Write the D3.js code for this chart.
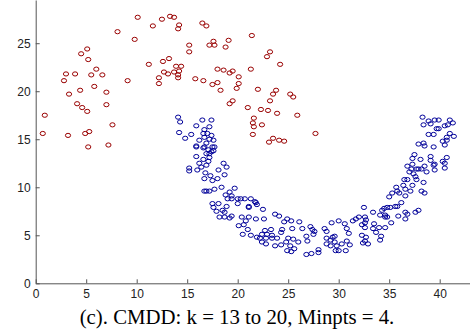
<!DOCTYPE html>
<html>
<head>
<meta charset="utf-8">
<script src="https://cdn.jsdelivr.net/npm/d3@7"></script>
<style>
    body { margin: 0; background: #fff; }
    .axis path, .axis line { stroke: #555; }
    .axis text { font-family: "Liberation Sans", Arial, sans-serif; font-size: 12px; fill: #222; }
</style>
</head>
<body>
<svg id="chart"></svg>
<script>
// cluster 1 (red, upper moon)
const redX = [10.1, 12.5, 13.3, 13.7, 14.2, 14.1, 11.6, 8.1, 9.8, 5.1, 4.5, 5.2, 11.2, 12.6, 13.2, 13.9, 14.4, 12.7, 13.1, 13.7,
    14.2, 14.1, 14.1, 12.2, 12.2, 6.0, 3.0, 3.9, 5.5, 6.6, 2.8, 9.1, 5.8, 4.4, 7.0, 3.3, 4.1, 4.6, 5.1, 7.0,
    0.9, 7.6, 0.7, 3.2, 4.9, 5.3, 5.2, 7.2,
    16.5, 16.9, 21.4, 15.2, 15.2, 17.6, 17.2, 17.7, 19.1, 18.8, 23.2, 22.9, 24.2, 18.0, 18.6, 19.5, 19.2, 21.3, 15.8, 16.6,
    17.5, 18.0, 20.1, 20.1, 19.9, 18.3, 22.0, 23.8, 23.5, 25.2, 25.5, 23.2, 19.5, 19.2, 21.0, 22.3, 23.0, 23.9, 25.9, 21.6,
    21.5, 21.6, 22.4, 21.5, 27.7, 23.5, 24.1, 24.6, 23.1]
const redY = [27.7, 27.5, 27.8, 27.7, 26.9, 26.5, 26.8, 26.2, 25.4, 24.4, 23.9, 23.3, 22.8, 23.1, 23.4, 22.6, 22.6, 22.0, 21.8, 22.0,
    22.1, 21.7, 21.4, 21.4, 20.8, 22.3, 21.8, 21.8, 21.7, 21.7, 21.1, 21.1, 20.5, 20.1, 19.9, 19.7, 18.7, 18.3, 17.9, 18.6,
    17.5, 16.5, 15.6, 15.4, 15.6, 15.8, 14.2, 14.4,
    27.1, 26.8, 25.8, 24.8, 24.1, 25.2, 24.8, 24.8, 25.3, 24.6, 24.1, 23.6, 22.8, 22.3, 22.2, 22.1, 21.9, 22.3, 21.3, 21.1,
    20.7, 20.9, 21.5, 20.8, 20.3, 20.1, 20.2, 20.1, 19.7, 19.7, 19.4, 19.0, 19.0, 18.7, 18.3, 18.1, 18.0, 17.7, 17.5, 17.2,
    16.7, 16.3, 16.5, 15.5, 15.6, 15.1, 14.9, 14.8, 14.7]

// cluster 2 (blue, lower moon)
const blueX = [14.1, 14.3, 16.5, 17.4, 15.9, 17.2, 16.7, 14.2, 15.4, 14.8, 16.6, 17.0, 17.4, 16.7, 17.2, 16.2, 17.6, 16.9, 15.9, 16.6,
    17.7, 17.1, 17.4, 16.9, 15.9, 17.2, 16.6, 17.1, 16.2, 16.9, 18.6, 18.9, 15.2, 15.2, 16.0, 16.4, 18.1, 16.8, 17.3, 16.7,
    18.7, 18.0, 17.5, 16.7, 16.9, 17.2, 17.7, 18.4, 19.7, 19.2, 18.8, 19.4, 19.0, 19.4, 20.0, 20.3, 20.7, 21.3, 21.7, 21.9,
    22.5, 17.5, 18.1, 17.6, 18.5, 17.9, 18.9, 20.0, 21.1, 18.7, 18.2, 18.7, 19.2, 19.4, 20.4, 21.1, 21.8, 20.8, 22.6, 20.1,
    20.6, 21.0, 20.5, 21.3, 21.9, 22.7, 22.4, 22.9, 22.2, 22.8, 22.4, 22.8, 17.5, 16.7, 17.6, 17.2, 15.9, 21.8, 21.1,
    23.7, 24.1, 24.9, 24.6, 25.3, 26.1, 25.4, 26.4, 27.2, 27.4, 27.6, 27.5, 26.8, 26.9, 24.4, 24.3, 23.3, 23.4, 23.9, 23.4,
    25.0, 24.8, 25.5, 26.0, 24.3, 23.7, 25.2, 25.6, 24.9, 25.3, 26.8, 27.3, 28.0, 28.0, 28.6, 28.8, 29.3, 30.0, 30.6, 30.8,
    31.0, 31.4, 31.7, 32.0, 32.5, 32.6, 32.3, 32.4, 28.8, 29.2, 29.4, 29.6, 28.8, 29.2, 29.8, 30.3, 30.8, 31.1, 29.7, 30.0,
    30.7, 29.6,
    38.3, 38.9, 39.5, 39.9, 41.0, 41.3, 38.4, 39.1, 39.7, 39.9, 40.5, 40.8, 38.9, 39.4, 41.0, 41.4, 40.7, 40.3, 40.7, 40.5,
    37.9, 38.4, 38.5, 39.4, 37.5, 37.3, 38.1, 39.1, 39.1, 40.7, 40.3, 39.5, 39.4, 40.5, 38.5, 36.8, 37.3, 37.9, 37.2, 37.7,
    38.2, 38.7, 39.5, 40.5, 37.0, 37.4, 37.6, 37.7, 36.5, 36.8, 38.4, 36.4, 37.3, 35.7, 36.6, 35.8, 38.2, 38.5, 37.1, 35.3,
    36.0, 35.0, 36.6, 36.2, 35.6, 35.1, 35.8, 34.5, 34.8, 34.3, 33.4, 34.1, 34.6, 34.6, 34.8, 35.9, 36.6, 36.8, 37.6, 37.9,
    36.6, 32.6, 32.7, 32.3, 32.6, 33.5, 33.4, 34.0, 34.6, 35.2, 33.7, 34.2, 34.1, 32.7, 32.6, 32.9]
const blueY = [17.3, 16.8, 17.0, 17.0, 16.4, 16.3, 16.0, 15.7, 15.5, 15.1, 15.6, 15.6, 15.4, 15.2, 15.0, 14.9, 14.9, 14.6, 14.3, 14.1,
    14.2, 13.9, 13.7, 13.5, 13.2, 13.1, 12.9, 12.7, 12.5, 12.3, 12.5, 12.1, 12.0, 11.7, 11.8, 12.1, 11.8, 11.5, 11.2, 10.9,
    11.3, 10.9, 10.7, 9.6, 9.6, 9.6, 9.8, 10.0, 9.9, 9.5, 9.2, 9.1, 8.8, 8.8, 8.8, 8.8, 8.8, 8.8, 8.5, 8.2,
    7.7, 8.3, 8.3, 7.9, 7.6, 7.5, 8.0, 8.3, 7.9, 7.4, 6.9, 6.9, 6.8, 7.0, 6.9, 6.9, 6.7, 6.5, 6.7, 6.0,
    6.1, 5.6, 5.1, 5.0, 4.8, 5.5, 5.1, 5.1, 4.7, 4.7, 4.3, 4.1, 14.2, 14.2, 13.8, 13.5, 14.2, 8.4, 8.0,
    7.2, 7.0, 6.7, 6.4, 6.5, 6.4, 5.7, 5.7, 5.9, 5.6, 5.4, 5.1, 4.9, 4.4, 5.6, 5.3, 5.6, 5.0, 4.7, 4.7,
    4.7, 4.3, 4.6, 4.3, 4.0, 3.9, 3.9, 3.6, 3.4, 3.3, 3.0, 3.1, 3.5, 3.2, 5.7, 5.4, 6.3, 6.5, 6.2, 5.7,
    5.2, 6.5, 6.7, 6.9, 7.9, 6.3, 5.0, 4.2, 4.7, 4.5, 4.8, 4.3, 4.1, 3.9, 3.9, 4.1, 4.4, 4.0, 3.4, 3.4,
    3.4, 4.9,
    17.3, 16.9, 17.0, 17.0, 17.0, 16.7, 16.5, 16.6, 16.1, 16.1, 16.4, 16.5, 15.5, 15.5, 15.6, 15.3, 15.2, 14.8, 14.9, 14.4,
    14.5, 14.6, 14.3, 14.2, 13.4, 13.0, 12.9, 13.2, 12.8, 13.1, 12.7, 12.4, 12.3, 12.5, 12.2, 12.2, 12.4, 11.9, 11.9, 11.9,
    11.9, 11.6, 11.8, 12.0, 11.6, 11.4, 11.1, 10.8, 10.8, 10.8, 10.5, 10.2, 10.2, 10.0, 9.8, 9.6, 9.6, 9.4, 9.6, 9.4,
    9.4, 9.0, 9.1, 8.4, 8.0, 7.9, 8.0, 7.8, 7.9, 7.6, 7.4, 7.1, 7.1, 6.9, 6.9, 7.0, 7.4, 7.2, 7.4, 7.6,
    6.7, 6.9, 6.6, 6.1, 5.8, 6.2, 5.7, 5.8, 5.8, 6.3, 5.3, 4.9, 4.5, 4.8, 4.4, 4.1]

const xTicks = [0, 5, 10, 15, 20, 25, 30, 35, 40]
const yTicks = [0, 5, 10, 15, 20, 25]
const caption = "(c). CMDD: k = 13 to 20, Minpts = 4."

const width = 470, height = 330
const svg = d3.select('#chart')
    .attr('width', width)
    .attr('height', height)

// plot area: left spine at ~35.7px, bottom spine at ~283.3px, top clipped by the crop
const xScale = d3.scaleLinear().domain([0, 43]).range([35.7, 470])
const yScale = d3.scaleLinear().domain([0, 29.5]).range([283.3, 0])

// inward ticks, matlab style
const xAxis = d3.axisBottom(xScale)
    .tickValues(xTicks)
    .tickSizeInner(-4)
    .tickSizeOuter(0)
    .tickPadding(6)
const yAxis = d3.axisLeft(yScale)
    .tickValues(yTicks)
    .tickSizeInner(-4)
    .tickSizeOuter(0)
    .tickPadding(5)

svg.append('g')
    .attr('class', 'axis')
    .attr('transform', `translate(0, ${yScale(0)})`)
    .call(xAxis)

svg.append('g')
    .attr('class', 'axis')
    .attr('transform', `translate(${xScale(0)}, 0)`)
    .call(yAxis)

// drawing both clusters as open markers
const drawCluster = (xs, ys, colour) => {
    svg.append('g')
        .selectAll('ellipse')
        .data(xs.map((x, i) => ({x: x, y: ys[i]})))
        .enter().append('ellipse')
        .attr('cx', d => xScale(d.x))
        .attr('cy', d => yScale(d.y))
        .attr('rx', 2.6)
        .attr('ry', 2.1)
        .attr('fill', 'none')
        .attr('stroke', colour)
        .attr('stroke-width', 1)
}
drawCluster(redX, redY, '#990000')
drawCluster(blueX, blueY, '#000099')

svg.append('text')
    .attr('x', 237)
    .attr('y', 324)
    .attr('text-anchor', 'middle')
    .style('font-family', '"Liberation Serif", "Times New Roman", serif')
    .style('font-size', '20.8px')
    .style('fill', '#000')
    .text(caption)
</script>
</body>
</html>
